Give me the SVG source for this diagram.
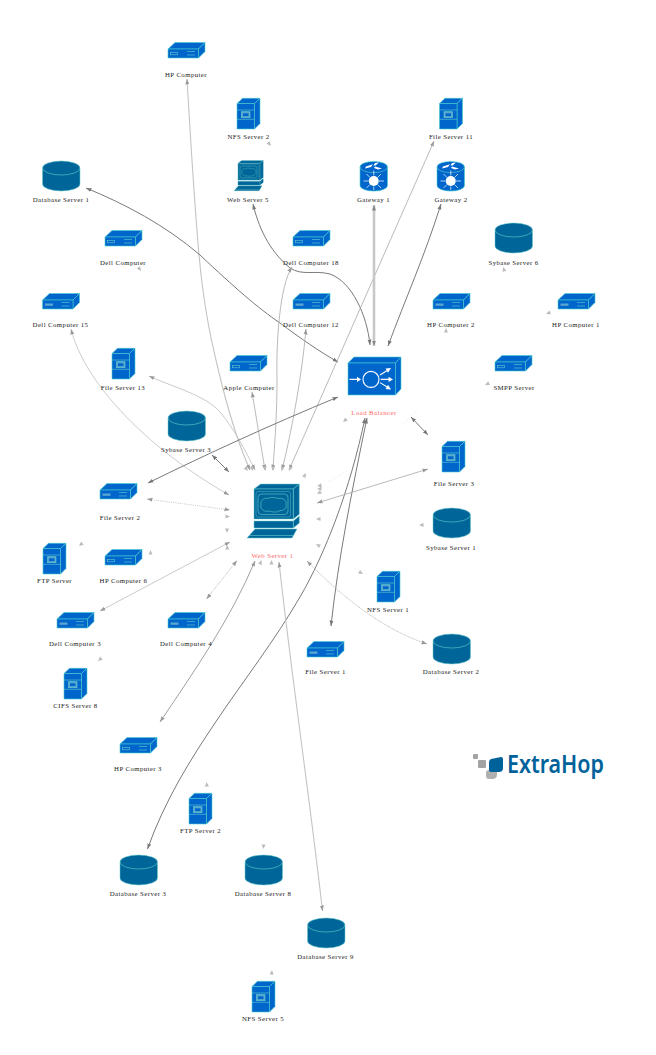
<svg xmlns="http://www.w3.org/2000/svg" xmlns:xlink="http://www.w3.org/1999/xlink" width="656" height="1055" viewBox="0 0 656 1055">
<style>
text{font-family:"Liberation Serif","Times New Roman",serif;font-size:6.8px;letter-spacing:.42px;fill:#222;text-anchor:middle}
text.hot{fill:#f66}
text.logo{font-family:"Noto Sans",sans-serif;font-size:25px;font-weight:600;letter-spacing:0;fill:#00629b;text-anchor:start}
.b{fill:#0066cc;stroke:#4cc;stroke-width:.6;stroke-linejoin:round}
.t{fill:#006699;stroke:#6cc;stroke-width:.5;stroke-linejoin:round}
.n{fill:none;stroke:#6cc;stroke-width:.6}
.f{fill:#5aa7cf;stroke:none}
.w{fill:none;stroke:#fff;stroke-width:1.1}
.wf{fill:#fff;stroke:none}
#edges path{fill:none}
.d{stroke:#7a7a7a;stroke-width:1;marker-start:url(#ad);marker-end:url(#ad)}
.m{stroke:#a8a8a8;stroke-width:.8;marker-start:url(#am);marker-end:url(#am)}
.l{stroke:#c4c4c4;stroke-width:1.1;marker-start:url(#am);marker-end:url(#am)}
.x{stroke:#c8c8c8;stroke-width:2.6;marker-start:url(#ax);marker-end:url(#ax)}
.o{stroke:#aaa;stroke-width:.7;stroke-dasharray:1 1.2;marker-start:url(#am);marker-end:url(#am)}
.s{stroke:#ccc;stroke-width:.5;fill:none;stroke-dasharray:1 1.5}
.h{fill:#bbb}
</style>
<defs>
<marker id="ad" markerUnits="userSpaceOnUse" markerWidth="7" markerHeight="5" refX="5.500" refY="2.500" orient="auto-start-reverse"><path d="M0,.5L5.500,2.500L0,4.500z" fill="#777"/></marker>
<marker id="am" markerUnits="userSpaceOnUse" markerWidth="7" markerHeight="5" refX="5.500" refY="2.500" orient="auto-start-reverse"><path d="M0,.5L5.500,2.500L0,4.500z" fill="#999"/></marker>
<marker id="ax" markerUnits="userSpaceOnUse" markerWidth="7" markerHeight="5" refX="5.500" refY="2.500" orient="auto-start-reverse"><path d="M0,.5L5.500,2.500L0,4.500z" fill="#888"/></marker>
<path id="h" d="M-4.500,-2L0,0L-4.500,2z"/>
<g id="flat"><polygon class="b" points="0,7 7,.5 37,.5 30.5,7"/><polygon class="b" points="30.5,7 37,.5 37,9.5 30.5,16"/><rect class="b" x="0" y="7" width="30.5" height="9"/><rect class="n" x="2.5" y="10.5" width="7" height="2.3"/><path class="n" d="M19,9.5H27M19,13H27"/></g>
<g id="flat2"><polygon class="b" points="0,7 7,.5 37,.5 30.5,7"/><polygon class="b" points="30.5,7 37,.5 37,9.5 30.5,16"/><rect class="b" x="0" y="7" width="30.5" height="9"/><rect class="f" x="2.5" y="10.5" width="8" height="2.3"/><path class="n" d="M19,9.5H27M19,13H27"/></g>
<g id="tower"><polygon class="b" points="0,5.5 5.5,.3 23,.3 17.5,5.5"/><polygon class="b" points="17.5,5.5 23,.3 23,25.5 17.5,31"/><rect class="b" x="0" y="5.5" width="17.5" height="25.5"/><path class="n" d="M0,12H17.5M0,21.3H17.5"/><rect class="f" x="4.5" y="13.7" width="8.5" height="6"/><rect class="n" x="4.5" y="13.7" width="8.5" height="6"/><rect x="6" y="15.3" width="5.5" height="2.8" fill="#0066cc"/></g>
<g id="db"><path class="t" d="M0,7A18.75,7 0 0 1 37.5,7V23A18.75,7 0 0 1 0,23Z"/><path class="n" d="M0,7A18.75,7 0 0 0 37.5,7"/></g>
<g id="router"><path class="b" d="M0,6A13.75,5.6 0 0 1 27.5,6V24.5A13.75,5.6 0 0 1 0,24.5Z"/><path class="n" d="M0,6A13.75,5.6 0 0 0 27.5,6"/><circle class="wf" cx="13.75" cy="20" r="5"/><path class="w" style="stroke-width:.7" d="M13.75,9.5V14.5M13.75,25.5V29M3.5,20H8.5M19,20H24M6.5,13L10,16.5M21,13L17.5,16.5M6.5,27L10,23.5M21,27L17.5,23.5"/><path class="wf" d="M6,5.5L13,3.2L11,6L5,7.5zM15,2L19,1.5L15.5,4.5L13.5,4.5zM15,5.5L22,7.5L18,8.5L14,7z"/></g>
<g id="lb"><polygon class="b" points="0,6 6,0 53,0 47.5,6"/><polygon class="b" points="47.5,6 53,0 53,32 47.5,38"/><rect class="b" x="0" y="6" width="47.5" height="32"/><circle class="w" cx="23" cy="22.4" r="8"/><path class="w" d="M1.5,22.4H10M32,18L40,13M32.7,22.4H41.5M32,25.6L40,30.5"/><path class="wf" d="M13,22.4L9,19.8V25zM43,11L37.6,11.6L40,15.8zM45,22.4L40.5,19.8V25zM43,32.4L37.6,32L40,27.8z"/></g>
<g id="mon"><polygon class="t" points="7,6 13.7,1 52.3,1 46.3,6"/><polygon class="t" points="46.3,6 52.3,1 52.3,31.3 46.3,36"/><rect class="t" x="7" y="6" width="39.3" height="30"/><rect class="n" style="stroke-width:.4" x="9" y="8.5" width="34.5" height="25.5" rx="2"/><rect class="n" x="11" y="11" width="30" height="20.5" rx="3.5"/><path class="n" d="M14,21.5C13,17 18,14.5 21,15.5C24,13.5 29,15 31,15.5C35,14.5 40,17 39,21C40.5,25 36,28 33,27.5C30,30 25,29 22,28C18,29.5 12.5,26 14,21.5Z"/><polygon class="t" points="46.3,38 52.3,33 52.3,40 46.3,45"/><rect class="t" x="7" y="38" width="39.3" height="7"/><polygon class="t" points="0,55 8,46 50,46 45,55"/><path class="n" d="M2,52.5H46"/></g>
</defs>
<rect width="656" height="1055" fill="#fff"/>
<g id="edges">
<path class="l" d="M187,79C190,130 195,210 199,255C204,310 212,345 222,385C231,420 241,450 250,470"/>
<path class="d" d="M86,188C125,204 165,225 200,255C235,288 258,308 280,323C300,338 320,352 338,362"/>
<path class="d" d="M253,204C258,225 268,250 290,268C302,276 315,270 330,274C352,282 367,315 370,345"/>
<path class="m" d="M292,267C280,285 276,340 277,380C277,420 274,450 273,470"/>
<path class="m" d="M306,329C302,375 292,430 282,470"/>
<path class="m" d="M434,141L289,470"/>
<path class="x" d="M374,205V346"/>
<path class="d" d="M441,204C425,255 405,300 388,346"/>
<path class="m" d="M252,392L265,470"/>
<path class="l" style="stroke-width:.9" d="M149,376C175,388 205,395 220,412C235,430 245,450 255,470"/>
<path class="o" style="stroke-dasharray:none;stroke-width:.6" d="M71,329C85,385 150,450 229,495"/>
<path class="d" d="M212,455L229,472"/>
<path class="d" d="M148,483C205,455 270,425 338,397"/>
<path class="o" d="M147,499L230,510"/>
<path class="l" style="stroke-width:.9" d="M100,611L230,542"/>
<path class="o" style="stroke-dasharray:1 .6" d="M206.500,599L237,560.500"/>
<path class="m" style="stroke:#888" d="M160,722C195,670 230,620 255,561"/>
<path class="d" d="M147.500,849C165,800 190,760 217,720S275,640 300,597S350,490 365,418"/>
<path class="d" d="M331,626C338,560 352,490 367,418"/>
<path class="d" d="M411,417L428,435"/>
<path class="m" d="M428,469L317,503"/>
<path class="o" style="stroke-dasharray:1 .5" d="M427,644C385,630 345,600 307,561"/>
<path class="l" d="M322.500,911C310,800 292,680 279,562"/>
<path class="s" d="M404,423L418,410M328,482L347,471M355,568L361,572"/>
<g class="h">
<use xlink:href="#h" transform="translate(271,146) rotate(50)"/>
<use xlink:href="#h" transform="translate(141,271) rotate(55)"/>
<use xlink:href="#h" transform="translate(503,267) rotate(-110)"/>
<use xlink:href="#h" transform="translate(446,328) rotate(-90)"/>
<use xlink:href="#h" transform="translate(546,314) rotate(160)"/>
<use xlink:href="#h" transform="translate(485,385) rotate(155)"/>
<use xlink:href="#h" transform="translate(343,422) rotate(140)"/>
<use xlink:href="#h" transform="translate(306,473) rotate(-60)"/>
<use xlink:href="#h" transform="translate(317,486) rotate(170)"/>
<use xlink:href="#h" transform="translate(317,489) rotate(175)"/>
<use xlink:href="#h" transform="translate(317,494) rotate(150)"/>
<use xlink:href="#h" transform="translate(316,519) rotate(180)"/>
<use xlink:href="#h" transform="translate(316,544) rotate(210)"/>
<use xlink:href="#h" transform="translate(419,525) rotate(180)"/>
<use xlink:href="#h" transform="translate(363,574) rotate(30)"/>
<use xlink:href="#h" transform="translate(261.500,560) rotate(-70)"/>
<use xlink:href="#h" transform="translate(271.500,560) rotate(-90)"/>
<use xlink:href="#h" transform="translate(248,471) rotate(50)"/>
<use xlink:href="#h" transform="translate(253,471) rotate(70)"/>
<use xlink:href="#h" transform="translate(265.500,471) rotate(80)"/>
<use xlink:href="#h" transform="translate(273,471) rotate(90)"/>
<use xlink:href="#h" transform="translate(281.500,471) rotate(105)"/>
<use xlink:href="#h" transform="translate(289,471) rotate(113)"/>
<use xlink:href="#h" transform="translate(79,546) rotate(140)"/>
<use xlink:href="#h" transform="translate(150.500,550) rotate(-90)"/>
<use xlink:href="#h" transform="translate(98,661) rotate(140)"/>
<use xlink:href="#h" transform="translate(206.500,782) rotate(-95)"/>
<use xlink:href="#h" transform="translate(263.500,849) rotate(90)"/>
<use xlink:href="#h" transform="translate(272,970) rotate(-85)"/>
<use xlink:href="#h" transform="translate(230,516.500) rotate(0)"/>
<use xlink:href="#h" transform="translate(227,533) rotate(90)"/>
<use xlink:href="#h" transform="translate(227,545) rotate(-95)"/>
</g>
</g>
<g id="hp-computer"><use xlink:href="#flat" x="168" y="42"/><text x="186" y="77">HP Computer</text></g>
<g id="dell-computer"><use xlink:href="#flat" x="105" y="230"/><text x="123" y="264.500">Dell Computer</text></g>
<g id="dell-computer-15"><use xlink:href="#flat2" x="42.500" y="293"/><text x="60.500" y="327">Dell Computer 15</text></g>
<g id="dell-computer-18"><use xlink:href="#flat" x="293" y="230"/><text x="311" y="264.500">Dell Computer 18</text></g>
<g id="dell-computer-12"><use xlink:href="#flat2" x="293" y="293"/><text x="311" y="327">Dell Computer 12</text></g>
<g id="apple-computer"><use xlink:href="#flat" x="230" y="355"/><text x="249" y="389.500">Apple Computer</text></g>
<g id="file-server-2"><use xlink:href="#flat2" x="100" y="483"/><text x="120" y="520">File Server 2</text></g>
<g id="hp-computer-6"><use xlink:href="#flat" x="105" y="549"/><text x="123.500" y="583">HP Computer 6</text></g>
<g id="dell-computer-3"><use xlink:href="#flat2" x="57" y="612"/><text x="75" y="646">Dell Computer 3</text></g>
<g id="dell-computer-4"><use xlink:href="#flat2" x="168" y="612"/><text x="186" y="646">Dell Computer 4</text></g>
<g id="hp-computer-3"><use xlink:href="#flat" x="120" y="737"/><text x="138" y="771">HP Computer 3</text></g>
<g id="file-server-1"><use xlink:href="#flat2" x="307" y="641"/><text x="325.500" y="674">File Server 1</text></g>
<g id="hp-computer-2"><use xlink:href="#flat2" x="433" y="293"/><text x="451" y="327">HP Computer 2</text></g>
<g id="hp-computer-1"><use xlink:href="#flat2" x="558" y="293"/><text x="576" y="327">HP Computer 1</text></g>
<g id="smpp-server"><use xlink:href="#flat" x="495" y="355"/><text x="514" y="389.500">SMPP Server</text></g>
<g id="nfs-server-2"><use xlink:href="#tower" x="237" y="98"/><text x="248.500" y="139">NFS Server 2</text></g>
<g id="file-server-11"><use xlink:href="#tower" x="439.500" y="98"/><text x="451" y="139">File Server 11</text></g>
<g id="file-server-13"><use xlink:href="#tower" x="112" y="348"/><text x="123" y="389.500">File Server 13</text></g>
<g id="file-server-3"><use xlink:href="#tower" x="442" y="441"/><text x="454" y="486">File Server 3</text></g>
<g id="ftp-server"><use xlink:href="#tower" x="43" y="543"/><text x="54.500" y="583">FTP Server</text></g>
<g id="cifs-server-8"><use xlink:href="#tower" x="64" y="668"/><text x="75.500" y="708">CIFS Server 8</text></g>
<g id="nfs-server-1"><use xlink:href="#tower" x="377" y="571"/><text x="388" y="612">NFS Server 1</text></g>
<g id="ftp-server-2"><use xlink:href="#tower" x="189" y="793"/><text x="200.500" y="833">FTP Server 2</text></g>
<g id="nfs-server-5"><use xlink:href="#tower" x="252" y="981"/><text x="263" y="1021">NFS Server 5</text></g>
<g id="database-server-1"><use xlink:href="#db" x="42.500" y="161"/><text x="61" y="201.500">Database Server 1</text></g>
<g id="sybase-server-6"><use xlink:href="#db" x="495" y="223"/><text x="513.500" y="264.500">Sybase Server 6</text></g>
<g id="sybase-server-3"><use xlink:href="#db" x="168" y="411"/><text x="186" y="452">Sybase Server 3</text></g>
<g id="sybase-server-1"><use xlink:href="#db" x="433" y="508"/><text x="451" y="550">Sybase Server 1</text></g>
<g id="database-server-2"><use xlink:href="#db" x="433" y="634"/><text x="451" y="674">Database Server 2</text></g>
<g id="database-server-3"><use xlink:href="#db" x="120" y="855"/><text x="138" y="896">Database Server 3</text></g>
<g id="database-server-8"><use xlink:href="#db" x="245" y="855"/><text x="263" y="896">Database Server 8</text></g>
<g id="database-server-9"><use xlink:href="#db" x="307.500" y="918"/><text x="325.500" y="959">Database Server 9</text></g>
<g id="web-server-5"><use xlink:href="#mon" transform="translate(234,160) scale(.56)"/><text x="248" y="201.500">Web Server 5</text></g>
<g id="gateway-1"><use xlink:href="#router" x="360" y="161"/><text x="373.500" y="201.500">Gateway 1</text></g>
<g id="gateway-2"><use xlink:href="#router" x="437" y="161"/><text x="451" y="201.500">Gateway 2</text></g>
<g id="load-balancer"><use xlink:href="#lb" x="348" y="357"/><text class="hot" x="374" y="415">Load Balancer</text></g>
<g id="web-server-1"><use xlink:href="#mon" x="247" y="483"/><text class="hot" x="272.500" y="558">Web Server 1</text></g>
<g id="logo">
<rect x="473" y="754" width="5" height="5" rx="1" fill="#a3a3a3"/>
<rect x="478" y="760" width="8" height="8" rx="1" fill="#a3a3a3"/>
<path d="M486,773Q486,770 489,770H497L497,775Q497,779 492,779H489Q486,779 486,776Z" fill="#b0b0b0"/>
<path d="M491,759L501,757Q503,757 503,759V768Q503,772 499,772H491Q489,772 489,770V762Q489,760 491,759Z" fill="#00629b"/>
<text class="logo" x="507" y="773" textLength="97" lengthAdjust="spacingAndGlyphs">ExtraHop</text>
</g>
</svg>
